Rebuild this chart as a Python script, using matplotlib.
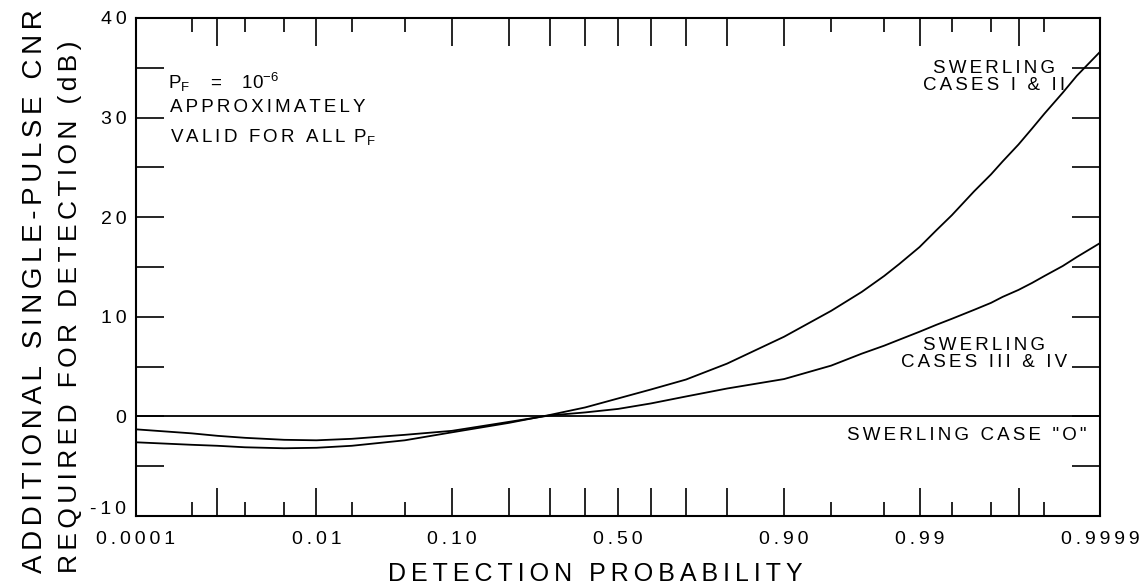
import matplotlib
matplotlib.use('Agg')
import matplotlib.pyplot as plt
import numpy as np
from statistics import NormalDist
from matplotlib.ticker import NullFormatter
from matplotlib.transforms import ScaledTranslation

plt.rcParams['font.family'] = ['Liberation Sans', 'DejaVu Sans']
plt.rcParams['mathtext.default'] = 'regular'

# detection probability and extra CNR (dB)
pd_vals = [0.0001, 0.0005, 0.001, 0.002, 0.005, 0.01, 0.02, 0.05, 0.1, 0.2,
           0.3, 0.4, 0.5, 0.6, 0.7, 0.8, 0.9, 0.95, 0.97, 0.98, 0.985, 0.99,
           0.993, 0.995, 0.997, 0.998, 0.9985, 0.999, 0.9993, 0.9995, 0.9997,
           0.9998, 0.9999]
case_0 = [0.0, 0.0, 0.0, 0.0, 0.0, 0.0, 0.0, 0.0, 0.0, 0.0, 0.0,
          0.0, 0.0, 0.0, 0.0, 0.0, 0.0, 0.0, 0.0, 0.0, 0.0, 0.0,
          0.0, 0.0, 0.0, 0.0, 0.0, 0.0, 0.0, 0.0, 0.0, 0.0, 0.0]
case_1_2 = [-2.6, -2.85, -2.95, -3.1, -3.2, -3.15, -2.95, -2.4, -1.6, -0.65,
            0.15, 0.9, 1.8, 2.7, 3.7, 5.3, 8.0, 10.6, 12.5, 14.1, 15.3, 17.0,
            18.7, 20.2, 22.6, 24.3, 25.6, 27.3, 28.9, 30.4, 32.5, 34.2, 36.6]
case_3_4 = [-1.3, -1.7, -1.95, -2.15, -2.35, -2.4, -2.25, -1.85, -1.45, -0.55,
            0.1, 0.4, 0.75, 1.3, 2.0, 2.8, 3.75, 5.1, 6.3, 7.1, 7.7, 8.5,
            9.2, 9.8, 10.7, 11.4, 12.0, 12.7, 13.4, 14.1, 15.1, 16.0, 17.4]

labeled_ticks = [0.0001, 0.01, 0.10, 0.50, 0.90, 0.99, 0.9999]
labeled_text = ['0.0001', '0.01', '0.10', '0.50', '0.90', '0.99', '0.9999']
long_ticks = [0.001, 0.2, 0.3, 0.4, 0.6, 0.7, 0.8, 0.999]
short_ticks = [0.0005, 0.002, 0.005, 0.02, 0.05, 0.95, 0.98, 0.995, 0.998, 0.9995]
y_major = [-10, 0, 10, 20, 30, 40]
y_major_text = ['-10', '0', '10', '20', '30', '40']
y_minor = [-5, 5, 15, 25, 35]

_nd = NormalDist()
_ppf = np.vectorize(_nd.inv_cdf, otypes=[float])
_cdf = np.vectorize(_nd.cdf, otypes=[float])


def probit(p):
    p = np.clip(np.asarray(p, dtype=float), 1e-12, 1 - 1e-12)
    return _ppf(p)


def inv_probit(z):
    return _cdf(np.asarray(z, dtype=float))


THIN = '\u2009'
SIXTH = '\u2006'


def spaced(s, sep=THIN):
    return sep.join(s)


W, H = 1146, 588
fig = plt.figure(figsize=(W / 100, H / 100), dpi=100)
ax = fig.add_axes([136 / W, 1 - 516 / H, 964 / W, 498 / H])

for ys in (case_0, case_1_2, case_3_4):
    ax.plot(pd_vals, ys, color='black', lw=1.3)

ax.set_xscale('function', functions=(probit, inv_probit))
ax.set_xlim(0.0001, 0.9999)
ax.set_ylim(-10, 40)

major = sorted(labeled_ticks + long_ticks)
major_lbl = [spaced(labeled_text[labeled_ticks.index(t)]) if t in labeled_ticks else ''
             for t in major]
ax.set_xticks(major, labels=major_lbl)
ax.set_xticks(short_ticks, minor=True)
ax.xaxis.set_minor_formatter(NullFormatter())
ax.set_yticks(y_major, labels=[spaced(t) for t in y_major_text])
ax.set_yticks(y_minor, minor=True)

ax.tick_params(axis='both', which='both', direction='in', width=1.2,
               top=True, right=True, labelsize=14)
ax.tick_params(axis='x', which='major', length=20, pad=11)
ax.tick_params(axis='x', which='minor', length=10)
ax.tick_params(axis='y', which='both', length=20, pad=7)
for sp in ax.spines.values():
    sp.set_linewidth(1.5)

# the -10 label sits a little above its tick in the original
lbl = ax.get_yticklabels()[0]
lbl.set_transform(lbl.get_transform() + ScaledTranslation(0, 0.08, fig.dpi_scale_trans))


def fpos(x, y):
    return x / W, 1 - y / H


fig.text(*fpos(595, 574), spaced('DETECTION PROBABILITY'), fontsize=18,
         ha='center', va='center')
fig.text(*fpos(35, 573), spaced('ADDITIONAL SINGLE-PULSE CNR', SIXTH), fontsize=20,
         rotation=90, ha='center', va='bottom')
fig.text(*fpos(70, 573), spaced('REQUIRED FOR DETECTION (dB)', SIXTH), fontsize=19,
         rotation=90, ha='center', va='bottom')

fs = 13.5
fig.text(*fpos(168, 82), '$P_F$    =    $10^{-6}$', fontsize=fs, ha='left', va='center')
fig.text(*fpos(170, 108), spaced('APPROXIMATELY', SIXTH), fontsize=fs,
         ha='left', va='center')
fig.text(*fpos(170, 137), spaced('VALID FOR ALL ', SIXTH) + '$P_F$', fontsize=fs,
         ha='left', va='center')

fig.text(*fpos(994, 77), spaced('SWERLING', SIXTH) + '\n' + spaced('CASES I & II', SIXTH),
         fontsize=fs, ha='center', va='center', linespacing=1.05)
fig.text(*fpos(984, 354), spaced('SWERLING', SIXTH) + '\n' + spaced('CASES III & IV', SIXTH),
         fontsize=fs, ha='center', va='center', linespacing=1.05)
fig.text(*fpos(967, 435), spaced('SWERLING CASE "O"', SIXTH), fontsize=fs,
         ha='center', va='center')

fig.savefig('out.png', dpi=100)
